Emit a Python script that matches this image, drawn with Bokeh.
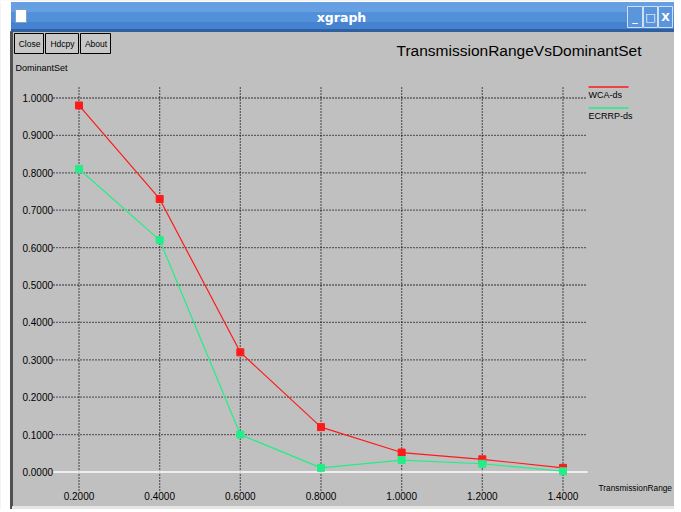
from bokeh.plotting import figure
from bokeh.models import Range1d
from bokeh.core.properties import value
from bokeh.embed import file_html
from bokeh.resources import INLINE

# ---- data ----
transmission_range = [0.2, 0.4, 0.6, 0.8, 1.0, 1.2, 1.4]
wca_ds = [0.98, 0.73, 0.32, 0.12, 0.052, 0.034, 0.011]
ecrrp_ds = [0.81, 0.62, 0.10, 0.011, 0.032, 0.022, 0.002]
x_ticks = [0.2, 0.4, 0.6, 0.8, 1.0, 1.2, 1.4]
y_ticks = [0.0, 0.1, 0.2, 0.3, 0.4, 0.5, 0.6, 0.7, 0.8, 0.9, 1.0]
title_text = "TransmissionRangeVsDominantSet"
x_label = "TransmissionRange"
y_label = "DominantSet"
series_names = ["WCA-ds", "ECRRP-ds"]
series_colors = ["#ff1a1a", "#22ee88"]

FONT = "'Liberation Sans', Arial, sans-serif"
GREY = "#c0c0c0"

W, H = 674, 509
# pixel <-> data mapping of the plotting area (0.2 at x=78.5, 1.4 at x=562.5; 1.0 at y=97.5, 0 at y=471.5)
KX = (562 - 78) / (1.4 - 0.2)
KY = (471 - 97) / 1.0


def X(px):
    return 0.2 + (px - 78.5) / KX


def Y(py):
    return (471.5 - py) / KY


p = figure(width=W, height=H, output_backend="svg", toolbar_location=None,
           x_range=Range1d(X(0), X(W)), y_range=Range1d(Y(H), Y(0)),
           x_axis_location=None, y_axis_location=None,
           min_border=0)
p.outline_line_color = None
p.background_fill_color = GREY
p.border_fill_color = GREY
p.grid.visible = False


def box(x0, y0, x1, y1, fill, line=None, lw=1):
    p.quad(left=[X(x0)], right=[X(x1)], top=[Y(y0)], bottom=[Y(y1)],
           fill_color=fill, line_color=line if line else fill, line_width=lw)


def text(x, y, s, size, color="#000000", align="left", base="middle", font=FONT, style="normal"):
    p.text(x=[X(x)], y=[Y(y)], text=[s], text_font=value(font), text_font_size=value(size),
           text_color=color, text_align=align, text_baseline=base, text_font_style=style)


# ---- plot area: dotted grid, white zero line ----
grid_top, grid_bottom = Y(86), Y(490)
grid_left, grid_right = X(53), X(587)
p.segment(x0=x_ticks, x1=x_ticks, y0=[grid_bottom] * len(x_ticks), y1=[grid_top] * len(x_ticks),
          line_color="#000000", line_dash="1 2", line_width=1.3)
hy = [t for t in y_ticks if t != 0.0]
p.segment(x0=[grid_left] * len(hy), x1=[grid_right] * len(hy), y0=hy, y1=hy,
          line_color="#000000", line_dash="1 2", line_width=1.3)
p.segment(x0=[grid_left], x1=[grid_right], y0=[0.0], y1=[0.0], line_color="#ffffff", line_width=1.5)

# tick labels (from the tick arrays, through the scales)
p.text(x=x_ticks, y=[Y(491)] * len(x_ticks), text=["%.4f" % t for t in x_ticks],
       text_font=value(FONT), text_font_size=value("10px"), text_color="#000000",
       text_align="center", text_baseline="top")
p.text(x=[X(52.5)] * len(y_ticks), y=y_ticks, text=["%.4f" % t for t in y_ticks],
       text_font=value(FONT), text_font_size=value("10px"), text_color="#000000",
       text_align="right", text_baseline="middle")

# series
for ys, c in zip([wca_ds, ecrrp_ds], series_colors):
    p.line(transmission_range, ys, line_color=c, line_width=1.2)
    p.scatter(transmission_range, ys, marker="square", size=7, fill_color=c, line_color=c)

# ---- window decoration ----
box(0, 0, 680, 3, "#ffffff")
box(10, 2, 680, 12, "#669fe2")
box(10, 12, 680, 22, "#5290da")
box(10, 22, 680, 29, "#4582d0")
box(10, 29, 680, 31, "#2f5f9e")
text(341, 16.5, "xgraph", "12.5px", color="#ffffff", align="center",
     font="'DejaVu Sans', sans-serif", style="bold")
box(15, 9, 26, 22, "#ffffff", "#7f9fc8")
for x0, x1, glyph in [(627, 642, "_"), (643, 657, "\u25a1"), (658, 672, "X")]:
    box(x0, 6, x1, 27, "#5b95dc", "#cfe0f6")
    text((x0 + x1) / 2, 16.5, glyph, "11px", color="#ffffff", align="center",
         font="'DejaVu Sans', sans-serif", style="bold")
box(0, 0, 10, 520, "#ffffff")
box(10, 31, 12, 520, "#505050")
box(12, 506, 680, 520, "#e6e6e6")

# xgraph buttons
for x0, x1, lab in [(14, 43, "Close"), (45, 78, "Hdcpy"), (80, 110, "About")]:
    box(x0, 33, x1, 53, "#c8c8c8", "#000000")
    text((x0 + x1) / 2 + 0.5, 43.5, lab, "8.5px", align="center")

# chart title and axis labels
text(641, 50, title_text, "15.5px", align="right")
text(15, 67, y_label, "9px")
text(598, 487, x_label, "8.3px")

# legend (line above text, xgraph style)
for i, (name, c) in enumerate(zip(series_names, series_colors)):
    yl = 86.5 + i * 21
    p.segment(x0=[X(588)], x1=[X(628)], y0=[Y(yl)], y1=[Y(yl)], line_color=c, line_width=1.5)
    text(588, yl + 7.5, name, "9px")

open("out.html", "w").write(file_html(p, INLINE))
